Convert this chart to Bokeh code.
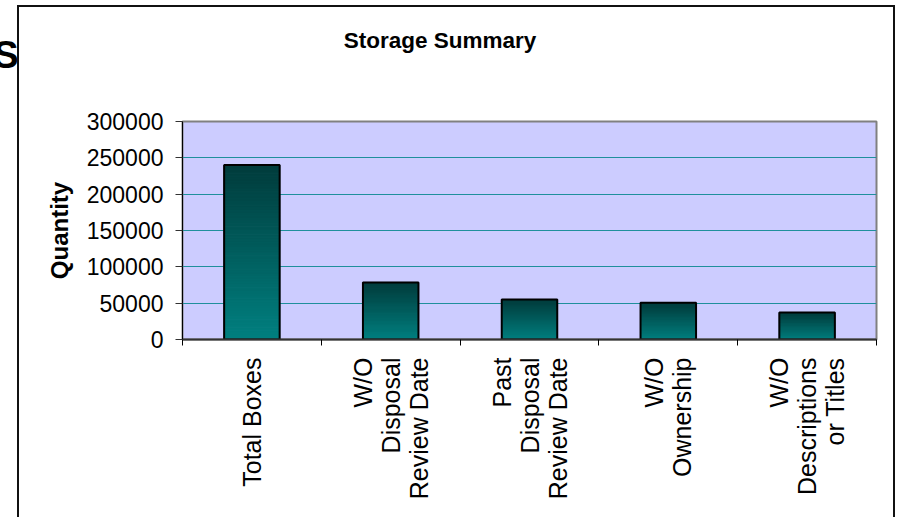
import math
import numpy as np
from bokeh.plotting import figure
from bokeh.models import (Range1d, FactorRange, LinearAxis, CategoricalAxis, FixedTicker,
                          Label, NumeralTickFormatter, Grid)
from bokeh.embed import file_html
from bokeh.resources import INLINE

# ---- data ----
categories = ["Total Boxes",
              "W/O\nDisposal\nReview Date",
              "Past\nDisposal\nReview Date",
              "W/O\nOwnership",
              "W/O\nDescriptions\nor Titles"]
quantities = [240000, 78500, 55000, 50500, 37000]
y_ticks = [0, 50000, 100000, 150000, 200000, 250000, 300000]
title_text = "Storage Summary"
y_label = "Quantity"
clipped_letter = "S"

FONT = "Liberation Sans"

p = figure(width=897, height=517,
           x_range=FactorRange(*categories),
           y_range=Range1d(y_ticks[0], y_ticks[-1]),
           output_backend="svg", toolbar_location=None,
           x_axis_location=None, y_axis_location=None,
           min_border_left=182, min_border_right=21,
           min_border_top=121, min_border_bottom=178)

p.background_fill_color = "#CCCCFF"
p.border_fill_color = "white"
p.outline_line_color = "#808080"
p.outline_line_width = 2
for g in p.grid:
    g.visible = False

# outer chart border (left, top, right; the bottom edge lies outside the view)
p.stylesheets = [
    ":host::after { content: ''; position: absolute; left: 17px; top: 5px; "
    "width: 878px; height: 512px; box-sizing: border-box; "
    "border: 2px solid #111111; border-bottom: none; pointer-events: none; }"
]

# horizontal grid
grid = Grid(dimension=1, ticker=FixedTicker(ticks=y_ticks),
            grid_line_color="#1f8f9c", grid_line_width=1)
p.add_layout(grid)

# y axis
yaxis = LinearAxis(ticker=FixedTicker(ticks=y_ticks),
                   formatter=NumeralTickFormatter(format="0"),
                   axis_label=y_label,
                   axis_label_text_font=FONT,
                   axis_label_text_font_style="bold",
                   axis_label_text_font_size="24px",
                   axis_label_text_color="black",
                   axis_label_standoff=11,
                   major_label_text_font=FONT,
                   major_label_text_font_size="23px",
                   major_label_text_color="black",
                   major_label_standoff=12,
                   major_tick_out=7, major_tick_in=0,
                   major_tick_line_color="#333333",
                   minor_tick_line_color=None,
                   axis_line_color="black", axis_line_width=1)
p.add_layout(yaxis, "left")

# boundary ticks between categories (synthetic coordinates of the factor range)
boundaries = list(range(len(categories) + 1))
tick_axis = LinearAxis(ticker=FixedTicker(ticks=boundaries),
                       major_label_overrides={b: "" for b in boundaries},
                       major_label_text_font_size="1px",
                       major_label_standoff=0,
                       major_tick_out=6, major_tick_in=0,
                       major_tick_line_color="black",
                       minor_tick_line_color=None,
                       axis_line_color="#333333", axis_line_width=2)
p.add_layout(tick_axis, "below")

cat_axis = CategoricalAxis(major_label_orientation=math.pi / 2,
                           major_label_standoff=12,
                           major_tick_line_color=None,
                           major_tick_out=0, major_tick_in=0,
                           axis_line_color=None,
                           major_label_text_font=FONT,
                           major_label_text_font_size="25px",
                           major_label_text_color="black",
                           major_label_text_line_height=1.0)
p.add_layout(cat_axis, "below")

# gradient bars (dark teal at top, teal at bottom)
n_slices = 60
top_rgb = np.array([0, 60, 60])
bot_rgb = np.array([0, 128, 128])
xs, bots, tops, cols = [], [], [], []
for cat, v in zip(categories, quantities):
    for i in range(n_slices):
        t = (i + 0.5) / n_slices
        rgb = (bot_rgb + (top_rgb - bot_rgb) * t).round().astype(int)
        xs.append(cat)
        bots.append(v * i / n_slices)
        tops.append(v * (i + 1) / n_slices)
        cols.append("#%02x%02x%02x" % tuple(rgb))
p.vbar(x=xs, bottom=bots, top=tops, width=0.4,
       fill_color=cols, line_color=cols, line_width=1)
p.vbar(x=categories, top=quantities, width=0.4,
       fill_color=None, line_color="black", line_width=2)

# title
p.add_layout(Label(x=439.5, y=40, x_units="canvas", y_units="canvas",
                   text=title_text, text_align="center", text_baseline="alphabetic",
                   text_font=FONT, text_font_style="bold", text_font_size="22.5px",
                   text_color="black"), "above")

# partly hidden letter from the page behind the chart
p.add_layout(Label(x=18, y=54, x_units="canvas", y_units="canvas",
                   text=clipped_letter, text_align="right", text_baseline="alphabetic",
                   text_font=FONT, text_font_style="bold", text_font_size="38px",
                   text_color="black"), "above")

open("out.html", "w").write(file_html(p, INLINE))
